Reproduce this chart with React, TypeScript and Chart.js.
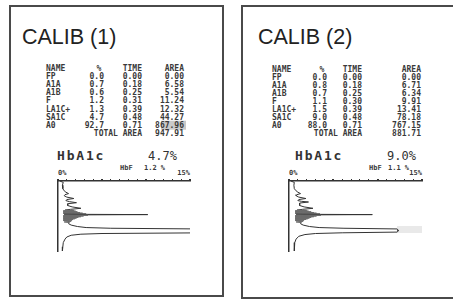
import React, { useEffect, useRef } from "react";
import { Chart, registerables } from "chart.js";

Chart.register(...registerables);

// ---------- data ----------
const PEAK_NAMES = ["FP", "A1A", "A1B", "F", "LA1C+", "SA1C", "A0"];

const PCT_1 = ["0.0", "0.7", "0.6", "1.2", "1.3", "4.7", "92.7"];
const TIME_1 = ["0.00", "0.18", "0.25", "0.31", "0.39", "0.48", "0.71"];
const AREA_1 = ["0.00", "6.58", "5.54", "11.24", "12.32", "44.27", "867.96"];
const TOTAL_AREA_1 = "947.91";
const HBA1C_1 = "4.7%";
const HBF_1 = "1.2 %";

const PCT_2 = ["0.0", "0.8", "0.7", "1.1", "1.5", "9.0", "88.0"];
const TIME_2 = ["0.00", "0.18", "0.25", "0.30", "0.39", "0.48", "0.71"];
const AREA_2 = ["0.00", "6.71", "6.34", "9.91", "13.41", "78.18", "767.15"];
const TOTAL_AREA_2 = "881.71";
const HBA1C_2 = "9.0%";
const HBF_2 = "1.1 %";

const SCALE_LABELS = ["0%", "15%"];

// chromatogram traces: time (min) and signal (% of full scale)
const TRACE_1_TIME = [
  0.0, 0.02, 0.06, 0.11, 0.14, 0.16, 0.18, 0.195, 0.21, 0.23, 0.25, 0.265, 0.28, 0.295, 0.31, 0.325,
  0.35, 0.37, 0.39, 0.405, 0.415, 0.42, 0.425, 0.43, 0.435, 0.44, 0.445, 0.45, 0.455, 0.46, 0.465,
  0.47, 0.475, 0.48, 0.485, 0.49, 0.495, 0.5, 0.505, 0.51, 0.515, 0.52, 0.525, 0.53, 0.535, 0.54,
  0.545, 0.55, 0.555, 0.56, 0.565, 0.575, 0.585, 0.595, 0.61, 0.63, 0.65, 0.665, 0.675, 0.685,
  0.7, 0.74, 0.75, 0.76, 0.775, 0.8, 0.83, 0.88, 0.94, 1.0,
];
const TRACE_1_SIGNAL = [
  0.2, 0.6, 0.5, 0.55, 0.7, 0.9, 1.2, 0.8, 0.7, 1.0, 1.8, 1.0, 0.9, 1.3, 2.1, 1.1,
  1.1, 1.6, 2.6, 1.4, 0.8, 1.8, 0.6, 2.0, 0.6, 2.2, 0.6, 2.5, 0.6, 2.8, 0.6,
  3.2, 0.7, 10.2, 0.7, 3.4, 0.6, 2.9, 0.6, 2.6, 0.6, 2.3, 0.6, 2.1, 0.6, 1.9,
  0.6, 1.7, 0.6, 1.6, 0.6, 1.5, 0.7, 1.3, 1.2, 1.5, 2.2, 3.2, 6.0, 16.0,
  17.0, 17.0, 5.0, 2.6, 1.5, 1.0, 0.8, 0.6, 0.55, 0.5,
];

const TRACE_2_TIME = [
  0.0, 0.02, 0.06, 0.11, 0.14, 0.16, 0.18, 0.195, 0.21, 0.23, 0.25, 0.265, 0.28, 0.29, 0.3, 0.315,
  0.35, 0.37, 0.39, 0.405, 0.415, 0.42, 0.425, 0.43, 0.435, 0.44, 0.445, 0.45, 0.455, 0.46, 0.465,
  0.47, 0.475, 0.48, 0.485, 0.49, 0.495, 0.5, 0.505, 0.51, 0.515, 0.52, 0.525, 0.53, 0.535, 0.54,
  0.545, 0.55, 0.555, 0.56, 0.565, 0.575, 0.585, 0.595, 0.61, 0.63, 0.65, 0.665, 0.675, 0.685,
  0.7, 0.715, 0.73, 0.74, 0.75, 0.765, 0.79, 0.83, 0.88, 0.94, 1.0,
];
const TRACE_2_SIGNAL = [
  0.2, 0.6, 0.55, 0.6, 0.8, 1.0, 1.3, 0.9, 0.8, 1.1, 1.9, 1.1, 1.0, 1.4, 2.2, 1.2,
  1.2, 1.7, 2.7, 1.5, 0.9, 2.0, 0.7, 2.2, 0.7, 2.5, 0.7, 2.8, 0.7, 3.1, 0.7,
  3.5, 0.8, 9.4, 0.8, 3.6, 0.7, 3.1, 0.7, 2.8, 0.7, 2.5, 0.7, 2.3, 0.7, 2.1,
  0.7, 1.9, 0.7, 1.7, 0.7, 1.6, 0.8, 1.4, 1.3, 1.6, 2.3, 3.4, 6.2, 12.2,
  12.3, 12.3, 12.2, 6.0, 3.0, 1.8, 1.1, 0.8, 0.65, 0.6, 0.6,
];

// ---------- chart ----------
type Area = { x: number; y: number; w: number; h: number };

function Chromatogram(props: { times: number[]; signals: number[]; area: Area }) {
  const { times, signals, area } = props;
  const ref = useRef<HTMLCanvasElement>(null);
  const pad = 4;
  const tick = 2;
  useEffect(() => {
    const chart = new Chart(ref.current as HTMLCanvasElement, {
      type: "scatter",
      data: {
        datasets: [
          {
            data: times.map((t, i) => ({ x: signals[i], y: t })),
            showLine: true,
            borderColor: "#333",
            borderWidth: 1,
            pointRadius: 0,
            tension: 0,
            segment: {
              borderColor: (ctx: any) => {
                const a = ctx.p0.parsed;
                const b = ctx.p1.parsed;
                const inHatch = a.y >= 0.415 && b.y <= 0.6 && a.x < 5 && b.x < 5;
                return inHatch ? "#6a6a6a" : "#333";
              },
            },
          } as any,
        ],
      },
      options: {
        animation: false,
        responsive: false,
        events: [],
        layout: { padding: pad },
        plugins: { legend: { display: false }, tooltip: { enabled: false } },
        scales: {
          x: {
            type: "linear",
            position: "top",
            min: 0,
            max: 15,
            ticks: { display: false, stepSize: 1 },
            grid: {
              drawOnChartArea: false,
              tickLength: tick,
              color: "#333",
              lineWidth: (c: any) => (c.tick && c.tick.value % 5 === 0 ? 2 : 1),
            },
            border: { display: true, color: "#333", width: 1.5 },
          },
          y: {
            type: "linear",
            position: "left",
            min: 0,
            max: 1,
            reverse: true,
            ticks: { display: false },
            grid: { display: false, drawTicks: false },
            border: { display: true, color: "#333", width: 1.5 },
          },
        },
      } as any,
    });
    return () => chart.destroy();
  }, []);
  return (
    <canvas
      ref={ref}
      width={area.w + 2 * pad}
      height={area.h + 2 * pad + tick}
      style={{ position: "absolute", left: area.x - pad, top: area.y - pad - tick }}
    />
  );
}

// ---------- panel ----------
type PanelCfg = {
  box: { x: number; y: number; w: number; h: number };
  title: string;
  titleX: number;
  titleY: number;
  nameX: number;
  pctEnd: number;
  timeEnd: number;
  areaEnd: number;
  row0: number;
  rowStep: number;
  pct: string[];
  time: string[];
  area: string[];
  total: string;
  hba1c: string;
  hbf: string;
  hbX: number;
  hbY: number;
  hbValEnd: number;
  hbfX: number;
  hbfValX: number;
  hbfY: number;
  chart: Area;
  highlightA0: boolean;
};

const MONO = "'DejaVu Sans Mono', 'Liberation Mono', monospace";

function PanelText({ c }: { c: PanelCfg }) {
  const rows = PEAK_NAMES.map((n, i) => {
    const y = c.row0 + c.rowStep * (i + 1);
    return (
      <g key={n}>
        <text x={c.nameX} y={y}>{n}</text>
        <text x={c.pctEnd} y={y} textAnchor="end">{c.pct[i]}</text>
        <text x={c.timeEnd} y={y} textAnchor="end">{c.time[i]}</text>
        <text x={c.areaEnd} y={y} textAnchor="end">{c.area[i]}</text>
      </g>
    );
  });
  const totalY = c.row0 + c.rowStep * 8;
  const a0Y = c.row0 + c.rowStep * 7;
  return (
    <g>
      <rect x={c.box.x} y={c.box.y} width={c.box.w} height={c.box.h} fill="none" stroke="#4a4a4a" strokeWidth={2} />
      <text x={c.titleX} y={c.titleY} fontFamily="'Liberation Sans', Arial, sans-serif" fontSize={21.5} fill="#222">
        {c.title}
      </text>
      {c.highlightA0 && <rect x={c.areaEnd - 23} y={a0Y - 7} width={25} height={9} fill="#c9c9c9" />}
      <g fontFamily={MONO} fontSize={8} fontWeight="bold" fill="#3a3a3a">
        <text x={c.nameX} y={c.row0}>NAME</text>
        <text x={c.pctEnd - 5} y={c.row0} textAnchor="middle">%</text>
        <text x={c.timeEnd} y={c.row0} textAnchor="end">TIME</text>
        <text x={c.areaEnd} y={c.row0} textAnchor="end">AREA</text>
        {rows}
        <text x={c.timeEnd} y={totalY} textAnchor="end">TOTAL AREA</text>
        <text x={c.areaEnd} y={totalY} textAnchor="end">{c.total}</text>
      </g>
      <text x={c.hbX} y={c.hbY} fontFamily={MONO} fontSize={13} fontWeight="bold" letterSpacing={1.8} fill="#333">
        HbA1c
      </text>
      <text x={c.hbValEnd} y={c.hbY} textAnchor="end" fontFamily={MONO} fontSize={12} fill="#333">
        {c.hba1c}
      </text>
      <g fontFamily={MONO} fontSize={7} fontWeight="bold" fill="#3a3a3a">
        <text x={c.hbfX} y={c.hbfY}>HbF</text>
        <text x={c.hbfValX} y={c.hbfY}>{c.hbf}</text>
        <text x={c.chart.x} y={c.chart.y - 6}>{SCALE_LABELS[0]}</text>
        <text x={c.chart.x + c.chart.w} y={c.chart.y - 6} textAnchor="end">{SCALE_LABELS[1]}</text>
      </g>
    </g>
  );
}

const PANELS: PanelCfg[] = [
  {
    box: { x: 10, y: 6, w: 213, h: 290 },
    title: "CALIB (1)",
    titleX: 22,
    titleY: 44,
    nameX: 46,
    pctEnd: 104,
    timeEnd: 142,
    areaEnd: 184,
    row0: 71,
    rowStep: 8.1,
    pct: PCT_1,
    time: TIME_1,
    area: AREA_1,
    total: TOTAL_AREA_1,
    hba1c: HBA1C_1,
    hbf: HBF_1,
    hbX: 57,
    hbY: 160,
    hbValEnd: 177,
    hbfX: 120,
    hbfValX: 144,
    hbfY: 169.5,
    chart: { x: 58, y: 181, w: 132, h: 70 },
    highlightA0: true,
  },
  {
    box: { x: 242, y: 6, w: 214, h: 292 },
    title: "CALIB (2)",
    titleX: 258,
    titleY: 44,
    nameX: 272,
    pctEnd: 327,
    timeEnd: 362,
    areaEnd: 421,
    row0: 72,
    rowStep: 8.0,
    pct: PCT_2,
    time: TIME_2,
    area: AREA_2,
    total: TOTAL_AREA_2,
    hba1c: HBA1C_2,
    hbf: HBF_2,
    hbX: 295,
    hbY: 160,
    hbValEnd: 416,
    hbfX: 369,
    hbfValX: 388,
    hbfY: 170,
    chart: { x: 289, y: 181, w: 133, h: 70 },
    highlightA0: false,
  },
];

export default function App() {
  return (
    <div
      style={{
        position: "absolute",
        left: 0,
        top: 0,
        width: 453,
        height: 303,
        overflow: "hidden",
        background: "#fff",
      }}
    >
      <svg width={453} height={303} style={{ position: "absolute", left: 0, top: 0 }}>
        <rect x={397} y={226} width={25} height={7} fill="#e9e9e9" />
        {PANELS.map((p) => (
          <PanelText key={p.title} c={p} />
        ))}
      </svg>
      <Chromatogram times={TRACE_1_TIME} signals={TRACE_1_SIGNAL} area={PANELS[0].chart} />
      <Chromatogram times={TRACE_2_TIME} signals={TRACE_2_SIGNAL} area={PANELS[1].chart} />
    </div>
  );
}
